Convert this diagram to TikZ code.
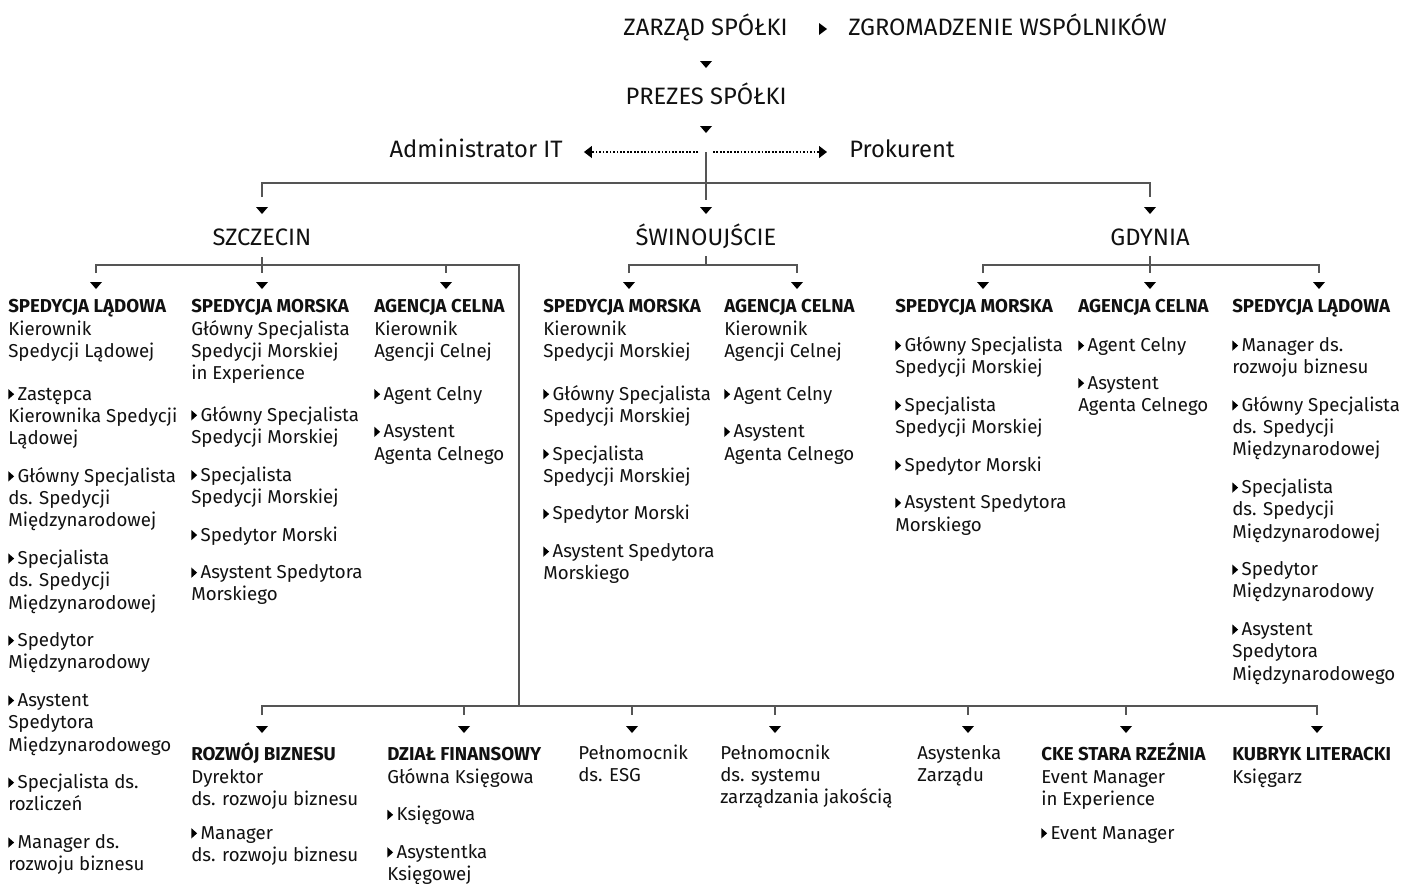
\documentclass[tikz,border=0pt]{standalone}
\usepackage{fontspec}
\setmainfont{Fira Sans}
\usetikzlibrary{arrows.meta}
\definecolor{lc}{HTML}{555555}
\definecolor{tx}{HTML}{111111}
\newcommand\bul{\tikz[x=1pt,y=1pt,baseline=0pt]\fill[black] (0,0.6) -- (0,8.4) -- (4.4,4.5) -- cycle;\hspace{2.6pt}}
\newcommand\fs{\rule{0pt}{16pt}}
\tikzset{
  ln/.style={draw=lc, line width=1pt},
  head/.style={font=\fontsize{17.8}{22}\selectfont, inner sep=0, text=tx},
  col/.style={anchor=north west, align=left, inner sep=0, text=tx, font=\fontsize{14}{16.7}\selectfont},
  tridown/.pic={\fill[black] (-6,-3.5) -- (6,-3.5) -- (0,3.5) -- cycle;},
  triright/.pic={\fill[black] (-4,-6) -- (-4,6) -- (4,0) -- cycle;},
  dotarr/.style={draw=black, line width=0.9pt, dash pattern=on 1.3pt off 1.3pt, -{Triangle[length=6pt,width=9pt]}}
}
\begin{document}
\begin{tikzpicture}[x=0.75pt,y=-0.75pt]
\fill[white] (0,0) rectangle (1402,883);
\useasboundingbox (0,0) rectangle (1402,883);

% ---------- top ----------
\node[head, anchor=base] (zarzad) at (705.5,35) {ZARZĄD SPÓŁKI};
\node[head, anchor=base west] (zgrom) at (848,35) {ZGROMADZENIE WSPÓLNIKÓW};
\pic at (823,29) {triright};
\pic at (706,64.5) {tridown};
\node[head, anchor=base] (prezes) at (706,104) {PREZES SPÓŁKI};
\pic at (706,129.5) {tridown};
\node[head, anchor=base east] (admin) at (563,157) {Administrator IT};
\node[head, anchor=base west] (prok) at (849,157) {Prokurent};
\coordinate (dl) at (698,152);
\coordinate (dr) at (713,152);
\draw[dotarr, shorten >=15.7pt] (dl) -- (dl -| admin.east);
\draw[dotarr, shorten >=16.5pt] (dr) -- (dr -| prok.west);

% main trunk
\coordinate (t0) at (706,152);
\coordinate (t1) at (706,200);
\coordinate (hl) at (262,183);
\coordinate (hr) at (1150,183);
\coordinate (hl2) at (262,197);
\coordinate (hr2) at (1150,197);
\draw[ln] (t0) -- (t1);
\draw[ln] (hl2) -- (hl) -- (hr) -- (hr2);
\pic at (262,210.5) {tridown};
\pic at (706,210.5) {tridown};
\pic at (1150,210.5) {tridown};

\node[head, anchor=base] (szc) at (262,245) {SZCZECIN};
\node[head, anchor=base] (swi) at (706,245) {ŚWINOUJŚCIE};
\node[head, anchor=base] (gdy) at (1150,245) {GDYNIA};

% ---------- Szczecin branch ----------
\coordinate (s0) at (262,257);
\coordinate (s1) at (262,273);
\coordinate (sa) at (96,273);
\coordinate (sa1) at (96,265);
\coordinate (sc) at (446,273);
\coordinate (sc1) at (446,265);
\coordinate (sr) at (519,265);
\coordinate (sb) at (519,706);
\draw[ln] (s0) -- (s1);
\draw[ln] (sa) -- (sa1) -- (sr) -- (sb);
\draw[ln] (sc1) -- (sc);
\pic at (96,285.5) {tridown};
\pic at (262,285.5) {tridown};
\pic at (446,285.5) {tridown};

\node[col] (c1) at (8,291.3) {\fs\textbf{SPEDYCJA LĄDOWA}\\
Kierownik\\
Spedycji Lądowej\\[15.4pt]
\bul Zastępca\\
Kierownika Spedycji\\
Lądowej\\[11.5pt]
\bul Główny Specjalista\\
ds. Spedycji\\
Międzynarodowej\\[11.5pt]
\bul Specjalista\\
ds. Spedycji\\
Międzynarodowej\\[11.5pt]
\bul Spedytor\\
Międzynarodowy\\[11.5pt]
\bul Asystent\\
Spedytora\\
Międzynarodowego\\[11.5pt]
\bul Specjalista ds.\\
rozliczeń\\[11.5pt]
\bul Manager ds.\\
rozwoju biznesu};

\node[col] (c2) at (191,291.3) {\fs\textbf{SPEDYCJA MORSKA}\\
Główny Specjalista\\
Spedycji Morskiej\\
in Experience\\[14.5pt]
\bul Główny Specjalista\\
Spedycji Morskiej\\[11.5pt]
\bul Specjalista\\
Spedycji Morskiej\\[11.5pt]
\bul Spedytor Morski\\[11.5pt]
\bul Asystent Spedytora\\
Morskiego};

\node[col] (c3) at (374,291.3) {\fs\textbf{AGENCJA CELNA}\\
Kierownik\\
Agencji Celnej\\[15.4pt]
\bul Agent Celny\\[11.5pt]
\bul Asystent\\
Agenta Celnego};

% ---------- Swinoujscie branch ----------
\coordinate (w0) at (706,256);
\coordinate (w1) at (706,265);
\coordinate (wa) at (629,273);
\coordinate (wa1) at (629,265);
\coordinate (wb) at (797,273);
\coordinate (wb1) at (797,265);
\draw[ln] (w0) -- (w1);
\draw[ln] (wa) -- (wa1) -- (wb1) -- (wb);
\pic at (629,285.5) {tridown};
\pic at (797,285.5) {tridown};

\node[col] (c4) at (543,291.3) {\fs\textbf{SPEDYCJA MORSKA}\\
Kierownik\\
Spedycji Morskiej\\[15.4pt]
\bul Główny Specjalista\\
Spedycji Morskiej\\[11.5pt]
\bul Specjalista\\
Spedycji Morskiej\\[11.5pt]
\bul Spedytor Morski\\[11.5pt]
\bul Asystent Spedytora\\
Morskiego};

\node[col] (c5) at (724,291.3) {\fs\textbf{AGENCJA CELNA}\\
Kierownik\\
Agencji Celnej\\[15.4pt]
\bul Agent Celny\\[11.5pt]
\bul Asystent\\
Agenta Celnego};

% ---------- Gdynia branch ----------
\coordinate (g0) at (1150,256);
\coordinate (g1) at (1150,273);
\coordinate (ga) at (983,273);
\coordinate (ga1) at (983,265);
\coordinate (gb) at (1319,273);
\coordinate (gb1) at (1319,265);
\draw[ln] (g0) -- (g1);
\draw[ln] (ga) -- (ga1) -- (gb1) -- (gb);
\pic at (983,285.5) {tridown};
\pic at (1150,285.5) {tridown};
\pic at (1319,285.5) {tridown};

\node[col] (c6) at (895,291.3) {\fs\textbf{SPEDYCJA MORSKA}\\[12.3pt]
\bul Główny Specjalista\\
Spedycji Morskiej\\[11.5pt]
\bul Specjalista\\
Spedycji Morskiej\\[11.5pt]
\bul Spedytor Morski\\[11.5pt]
\bul Asystent Spedytora\\
Morskiego};

\node[col] (c7) at (1078,291.3) {\fs\textbf{AGENCJA CELNA}\\[12.3pt]
\bul Agent Celny\\[11.5pt]
\bul Asystent\\
Agenta Celnego};

\node[col] (c8) at (1232,291.3) {\fs\textbf{SPEDYCJA LĄDOWA}\\[12.3pt]
\bul Manager ds.\\
rozwoju biznesu\\[11.5pt]
\bul Główny Specjalista\\
ds. Spedycji\\
Międzynarodowej\\[11.5pt]
\bul Specjalista\\
ds. Spedycji\\
Międzynarodowej\\[11.5pt]
\bul Spedytor\\
Międzynarodowy\\[11.5pt]
\bul Asystent\\
Spedytora\\
Międzynarodowego};

% ---------- bottom branch ----------
\coordinate (bl) at (262,706);
\coordinate (bl1) at (262,715);
\coordinate (br) at (1317,706);
\coordinate (br1) at (1317,715);
\draw[ln] (bl1) -- (bl) -- (br) -- (br1);
\foreach \xx [count=\i] in {464,632,775,968,1126}{
  \coordinate (bt\i) at (\xx,706);
  \coordinate (bu\i) at (\xx,715);
  \draw[ln] (bt\i) -- (bu\i);
}
\foreach \xx in {262,464,632,775,968,1126,1317}{
  \pic at (\xx,729.5) {tridown};
}

\node[col] (c9) at (191,739.3) {\fs\textbf{ROZWÓJ BIZNESU}\\
Dyrektor\\
ds. rozwoju biznesu\\[8.7pt]
\bul Manager\\
ds. rozwoju biznesu};

\node[col] (c10) at (387,739.3) {\fs\textbf{DZIAŁ FINANSOWY}\\
Główna Księgowa\\[11.5pt]
\bul Księgowa\\[11.5pt]
\bul Asystentka\\
Księgowej};

\node[col] (c11) at (578,737.4) {\fs Pełnomocnik\\
ds. ESG};

\node[col] (c12) at (720,737.4) {\fs Pełnomocnik\\
ds. systemu\\
zarządzania jakością};

\node[col] (c13) at (917,737.4) {\fs Asystenka\\
Zarządu};

\node[col] (c14) at (1041,739.3) {\fs\textbf{CKE STARA RZEŹNIA}\\
Event Manager\\
in Experience\\[8.7pt]
\bul Event Manager};

\node[col] (c15) at (1232,739.3) {\fs\textbf{KUBRYK LITERACKI}\\
Księgarz};
\end{tikzpicture}
\end{document}
